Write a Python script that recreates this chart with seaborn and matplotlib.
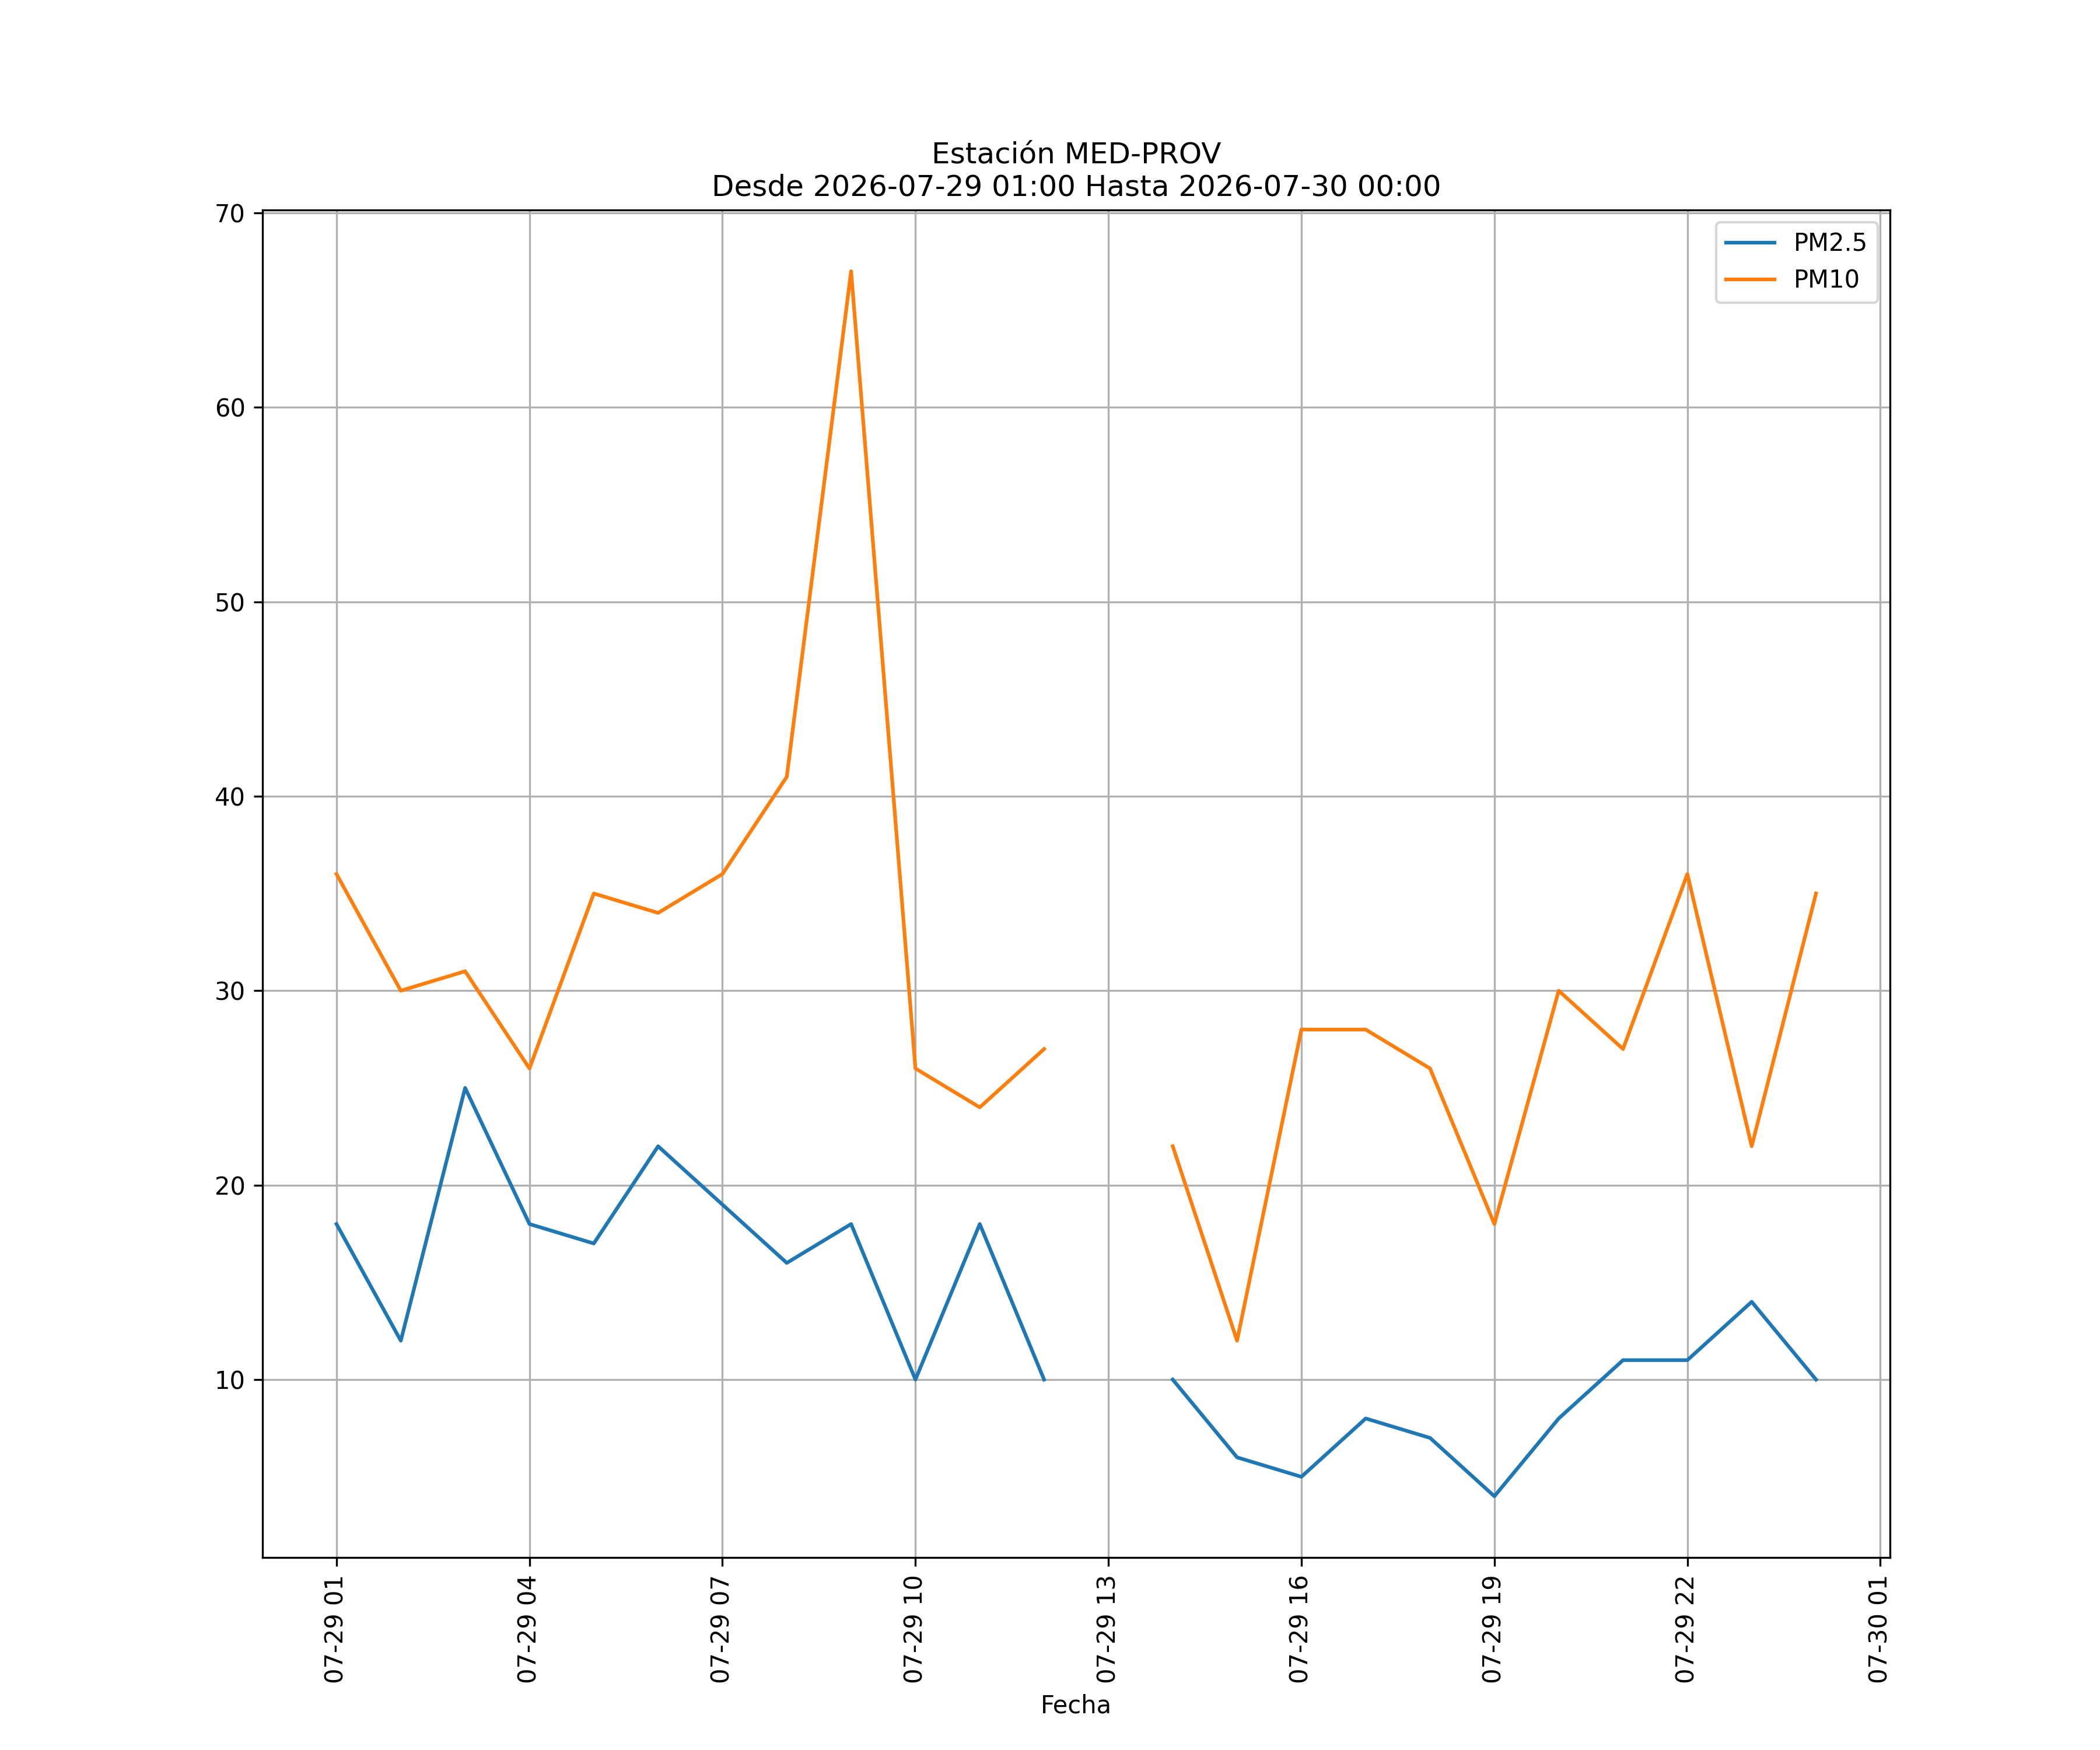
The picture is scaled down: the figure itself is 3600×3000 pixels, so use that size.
import numpy as np
import pandas as pd
import matplotlib
matplotlib.use('Agg')
import matplotlib.pyplot as plt
import matplotlib.dates as mdates
import seaborn as sns

# datos horarios de la estacion (13:00 sin dato)
horas = pd.date_range('2026-07-29 01:00', '2026-07-30 00:00', freq='h')
pm25 = [18, 12, 25, 18, 17, 22, 19, 16, 18, 10, 18, 10, np.nan,
        10, 6, 5, 8, 7, 4, 8, 11, 11, 14, 10]
pm10 = [36, 30, 31, 26, 35, 34, 36, 41, 67, 26, 24, 27, np.nan,
        22, 12, 28, 28, 26, 18, 30, 27, 36, 22, 35]

df = pd.DataFrame({'Fecha': horas, 'PM2.5': pm25, 'PM10': pm10})
# tramos separados por el hueco, para que la linea no se una
df['tramo'] = df['PM2.5'].isna().cumsum()
largo = df.melt(id_vars=['Fecha', 'tramo'], value_vars=['PM2.5', 'PM10'],
                var_name='variable', value_name='valor').dropna()

fig, ax = plt.subplots(figsize=(12, 10))
sns.lineplot(data=largo, x='Fecha', y='valor', hue='variable', units='tramo',
             estimator=None, ax=ax)

ax.xaxis.set_major_locator(mdates.HourLocator(byhour=range(1, 24, 3)))
ax.xaxis.set_major_formatter(mdates.DateFormatter('%m-%d %H'))
plt.xticks(rotation=90)
ax.set_xlabel('Fecha')
ax.set_ylabel('')
ax.set_title('Estación MED-PROV\nDesde 2026-07-29 01:00 Hasta 2026-07-30 00:00')
ax.grid(True)
sns.move_legend(ax, 'upper right', title=None)

plt.savefig('out.png', dpi=300)
